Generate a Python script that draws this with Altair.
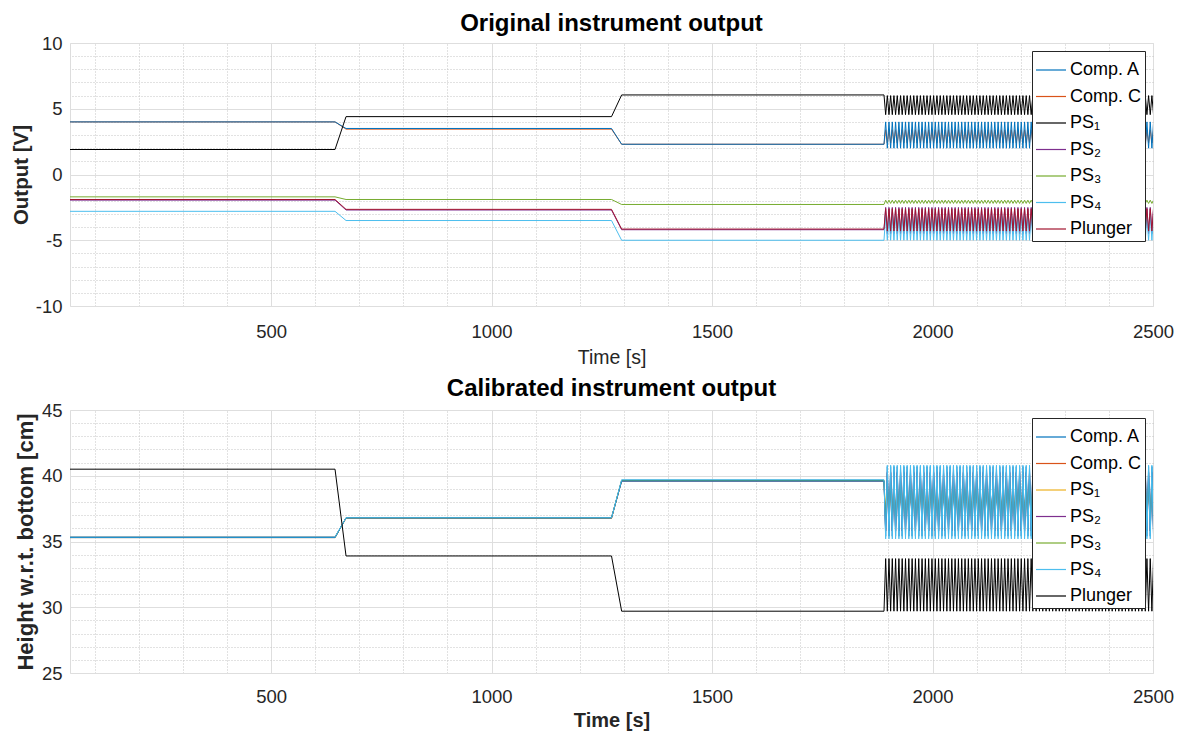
import altair as alt
import pandas as pd

FONT = "Liberation Sans"

SERIES = ["Comp. A", "Comp. C", "PS₁", "PS₂", "PS₃", "PS₄", "Plunger"]

# time breakpoints (s)
T_START = 44
STEP1 = [645, 670]
STEP2 = [1272, 1295]
OSC_START = 1890
T_END = 2500
OSC_PERIOD = 7.5

# levels per series: [level 1, level 2, level 3, oscillation high, oscillation low]
TOP_COMP_A = [4.0, 3.5, 2.3, 4.0, 2.0]
TOP_COMP_C = [4.0, 3.45, 2.3, 3.4, 2.4]
TOP_PS1 = [1.9, 4.4, 6.05, 6.0, 4.55]
TOP_PS2 = [-1.95, -2.7, -4.2, -2.5, -4.5]
TOP_PS3 = [-1.7, -1.9, -2.28, -1.95, -2.2]
TOP_PS4 = [-2.8, -3.5, -5.0, -3.1, -5.0]
TOP_PLUNGER = [-1.9, -2.65, -4.15, -2.6, -4.3]

BOT_COMP_A = [35.3, 36.8, 39.6, 40.7, 35.4]
BOT_COMP_C = [35.35, 36.75, 39.65, 40.2, 35.8]
BOT_PS1 = [35.3, 36.8, 39.6, 39.5, 36.6]
BOT_PS2 = [35.3, 36.8, 39.6, 40.3, 35.8]
BOT_PS3 = [35.3, 36.8, 39.65, 39.3, 36.8]
BOT_PS4 = [35.35, 36.8, 39.7, 40.8, 35.2]
BOT_PLUNGER = [40.5, 33.9, 29.7, 33.7, 29.7]

TOP_COLORS = ["#0072BD", "#D95319", "#000000", "#7E2F8E", "#77AC30", "#4DBEEE", "#A2142F"]
BOT_COLORS = ["#0072BD", "#D95319", "#EDB120", "#7E2F8E", "#77AC30", "#4DBEEE", "#000000"]

# drawing order (last drawn on top)
TOP_DRAW = ["Comp. C", "Comp. A", "PS₁", "PS₂", "PS₃", "PS₄", "Plunger"]
BOT_DRAW = ["Comp. C", "PS₁", "PS₂", "PS₃", "Comp. A", "PS₄", "Plunger"]

X_MAJOR = [500, 1000, 1500, 2000, 2500]
X_MINOR = [v for v in range(100, 2500, 100) if v % 500 != 0]
TOP_Y_MAJOR = [-10, -5, 0, 5, 10]
TOP_Y_MINOR = [v for v in range(-10, 11) if v % 5 != 0]
BOT_Y_MAJOR = [25, 30, 35, 40, 45]
BOT_Y_MINOR = [v for v in range(25, 46) if v % 5 != 0]


def series_rows(name, levels):
    l1, l2, l3, hi, lo = levels
    pts = [(T_START, l1), (STEP1[0], l1), (STEP1[1], l2),
           (STEP2[0], l2), (STEP2[1], l3), (OSC_START, l3)]
    first_hi = abs(l3 - hi) > abs(l3 - lo)
    t = float(OSC_START)
    k = 0
    while t < T_END + OSC_PERIOD:
        t += OSC_PERIOD / 2
        use_hi = (k % 2 == 0) == first_hi
        pts.append((t, hi if use_hi else lo))
        k += 1
    return [{"series": name, "t": a, "v": b} for a, b in pts]


def frame(levels_list, draw_order):
    lv = dict(zip(SERIES, levels_list))
    rows = []
    for name in draw_order:
        rows += series_rows(name, lv[name])
    return pd.DataFrame(rows)


top_df = frame([TOP_COMP_A, TOP_COMP_C, TOP_PS1, TOP_PS2, TOP_PS3, TOP_PS4, TOP_PLUNGER], TOP_DRAW)
bot_df = frame([BOT_COMP_A, BOT_COMP_C, BOT_PS1, BOT_PS2, BOT_PS3, BOT_PS4, BOT_PLUNGER], BOT_DRAW)

W, H = 1083, 263
LABEL_EXPR = "'' + datum.value"


def panel(df, ydom, ymaj, ymin, colors, title, ytitle, ytitle_size,
          xtitle_bold, xtitle_size, xlabel_pad, xtitle_pad, title_offset):
    xs = alt.Scale(domain=[T_START, T_END], nice=False, zero=False)
    ys = alt.Scale(domain=ydom, nice=False, zero=False)
    minor = alt.Chart(df).mark_line(opacity=0).encode(
        x=alt.X("t:Q", scale=xs, axis=alt.Axis(
            orient="top", values=X_MINOR, grid=True, gridDash=[1, 2], gridColor="#c4c4c4",
            labels=False, ticks=False, domain=False, title=None)),
        y=alt.Y("v:Q", scale=ys, axis=alt.Axis(
            orient="right", values=ymin, grid=True, gridDash=[1, 2], gridColor="#c4c4c4",
            labels=False, ticks=False, domain=False, title=None)),
        detail="series:N",
    )
    lines = alt.Chart(df).mark_line(strokeWidth=1, clip=True).encode(
        x=alt.X("t:Q", scale=xs, axis=alt.Axis(
            orient="bottom", values=X_MAJOR, grid=True, gridColor="#dedede",
            labelFontSize=18.5, labelFont=FONT, labelColor="#262626", labelPadding=xlabel_pad,
            labelFlush=False, labelExpr=LABEL_EXPR, ticks=False, domain=False,
            title="Time [s]", titleFont=FONT, titleFontSize=xtitle_size,
            titleFontWeight="bold" if xtitle_bold else "normal",
            titleColor="#262626", titlePadding=xtitle_pad)),
        y=alt.Y("v:Q", scale=ys, axis=alt.Axis(
            orient="left", values=ymaj, grid=True, gridColor="#dedede",
            labelFontSize=18.5, labelFont=FONT, labelColor="#262626", labelPadding=8,
            labelExpr=LABEL_EXPR, ticks=False, domain=False,
            title=ytitle, titleFont=FONT, titleFontSize=ytitle_size, titleFontWeight="bold",
            titleColor="#262626", titlePadding=4)),
        color=alt.Color("series:N", sort=SERIES,
                        scale=alt.Scale(domain=SERIES, range=colors),
                        legend=alt.Legend(
                            title=None, orient="top-right", offset=8,
                            fillColor="white", strokeColor="#262626", padding=3,
                            labelFont=FONT, labelFontSize=18, labelColor="#000000",
                            labelLimit=300, labelOffset=3,
                            symbolType="stroke", symbolSize=900, symbolStrokeWidth=1.2,
                            rowPadding=1.5)),
    )
    return alt.layer(minor, lines).resolve_axis(x="independent", y="independent").properties(
        width=W, height=H,
        title=alt.TitleParams(title, fontSize=24, fontWeight="bold", font=FONT,
                              color="#000000", offset=title_offset, anchor="middle"),
    )


top = panel(top_df, [-10, 10], TOP_Y_MAJOR, TOP_Y_MINOR, TOP_COLORS,
            "Original instrument output", "Output [V]", 20.5, False, 19.5, 16, 8, -2)
bottom = panel(bot_df, [25, 45], BOT_Y_MAJOR, BOT_Y_MINOR, BOT_COLORS,
               "Calibrated instrument output", "Height w.r.t. bottom [cm]", 22, True, 20, 14, 5, 0)

chart = alt.vconcat(top, bottom, spacing=8).resolve_scale(color="independent").properties(
    padding={"left": 2, "top": 3, "right": 0, "bottom": 0}
).configure_view(stroke="#404040", strokeWidth=1).configure(background="white")

chart.save("out.html", embed_options={"renderer": "svg", "actions": False})
